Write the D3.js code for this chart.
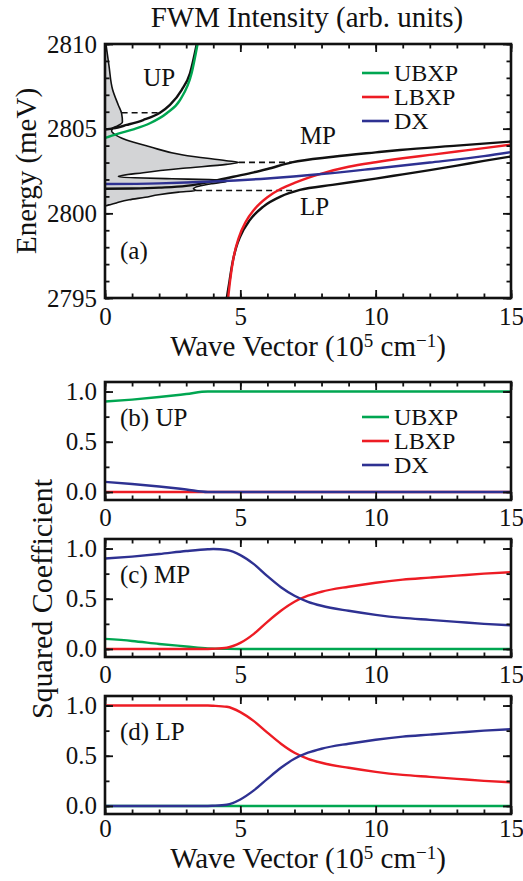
<!DOCTYPE html>
<html>
<head>
<meta charset="utf-8">
<script src="https://cdn.jsdelivr.net/npm/d3@7"></script>
<style>
  body { margin: 0; background: #fff; }
  svg { display: block; }
</style>
</head>
<body>
<script>
// ---- data ----
// panel (a): dispersion, [wave vector (1e5 cm^-1), energy (meV)]
const upBranch = [[0,2804.95],[0.31,2805.02],[0.8,2805.22],[1.41,2805.51],[2.03,2805.94],[2.4,2806.4],[2.83,2807.28],[3.14,2808.27],[3.39,2810.0]];
const mpBranch = [[0,2801.45],[1,2801.47],[2,2801.52],[3,2801.62],[3.5,2801.74],[4,2801.9],[4.74,2802.16],[5.5,2802.42],[6,2802.62],[6.9,2803.01],[8.43,2803.34],[10,2803.6],[10.9,2803.74],[13,2804.0],[15,2804.24]];
const lpBranch = [[4.5,2795],[4.6,2796],[4.7,2797],[4.85,2798],[5,2798.65],[5.35,2799.6],[5.85,2800.4],[6.5,2801.0],[7.2,2801.38],[8.4,2801.68],[10,2802.05],[11,2802.3],[12,2802.55],[13,2802.82],[14,2803.1],[15,2803.36]];
const ubxpBare = [[0,2804.45],[0.43,2804.68],[1.05,2804.96],[1.66,2805.32],[2.28,2805.91],[2.77,2806.69],[3.2,2808.27],[3.42,2810]];
const lbxpBare = [[4.55,2795],[4.62,2796],[4.74,2797.3],[4.95,2798.6],[5.2,2799.5],[5.5,2800.2],[6,2800.95],[6.5,2801.45],[7,2801.8],[7.5,2802.1],[8,2802.35],[9,2802.75],[10,2803.02],[11,2803.25],[12,2803.45],[13,2803.65],[14,2803.85],[15,2804.06]];
const dxBare = [[0,2801.73],[2,2801.77],[4,2801.88],[6,2802.06],[8,2802.32],[10,2802.65],[12,2803.0],[14,2803.38],[15,2803.62]];

// FWM spectrum, [energy (meV), intensity (peak = 1)]
const fwmSpectrum = [[2810,0.007],[2808.7,0.03],[2807.3,0.057],[2806.4,0.099],[2805.9,0.124],[2805.4,0.13],[2805.15,0.09],[2805.0,0.05],[2804.85,0.05],[2804.73,0.062],[2804.33,0.16],[2803.93,0.335],[2803.44,0.583],[2803.11,0.906],[2803.01,1.0],[2802.89,0.906],[2802.66,0.583],[2802.4,0.285],[2802.17,0.1],[2802.1,0.22],[2802.04,0.5],[2801.99,0.78],[2801.94,0.92],[2801.87,0.9],[2801.75,0.8],[2801.6,0.7],[2801.45,0.66],[2801.35,0.68],[2801.25,0.55],[2801.1,0.4],[2800.95,0.3],[2800.8,0.18],[2800.65,0.1],[2800.58,0.07],[2800.5,0.03],[2800.43,0]];
// dashed guides: energy, spectrum side (intensity), branch side (wave vector)
const peakGuides = [{e:2805.94, i:0.124, k:2.03},{e:2803.01, i:1.0, k:6.9},{e:2801.35, i:0.68, k:6.96}];
const branchLabels = [{t:'UP', k:1.41, e:2807.5},{t:'MP', k:7.2, e:2804.1},{t:'LP', k:7.2, e:2799.9}];

// panels (b)-(d): squared Hopfield coefficients
const kGrid = [0,1,2,3,3.8,4,4.5,5,5.5,6,6.5,7,7.5,8,9,10,11,12,13,14,15];
const upUBXP = [0.9,0.92,0.945,0.975,1,1,1,1,1,1,1,1,1,1,1,1,1,1,1,1,1];
const upLBXP = [0,0,0,0,0,0,0,0,0,0,0,0,0,0,0,0,0,0,0,0,0];
const upDX   = [0.1,0.08,0.055,0.025,0,0,0,0,0,0,0,0,0,0,0,0,0,0,0,0,0];
const mpUBXP = [0.1,0.08,0.05,0.025,0.005,0.003,0.001,0,0,0,0,0,0,0,0,0,0,0,0,0,0];
const mpLBXP = [0,0,0,0,0,0.002,0.012,0.06,0.15,0.27,0.38,0.47,0.53,0.57,0.62,0.66,0.69,0.71,0.73,0.75,0.765];
const mpDX   = [0.9,0.92,0.945,0.975,0.993,0.995,0.985,0.935,0.845,0.725,0.615,0.53,0.47,0.43,0.38,0.34,0.31,0.29,0.27,0.25,0.235];
const lpUBXP = [0,0,0,0,0,0,0,0,0,0,0,0,0,0,0,0,0,0,0,0,0];
const lpLBXP = [1,1,1,1,1,0.998,0.988,0.935,0.845,0.73,0.62,0.53,0.47,0.43,0.38,0.34,0.31,0.29,0.27,0.25,0.235];
const lpDX   = [0,0,0,0,0,0.002,0.012,0.065,0.155,0.27,0.38,0.47,0.53,0.57,0.62,0.66,0.69,0.71,0.73,0.75,0.765];

const seriesNames = ['UBXP','LBXP','DX'];
const kTicks = [0,5,10,15];
const eTicks = [2795,2800,2805,2810];
const cTicks = [0,0.5,1];

// ---- layout ----
let w = 523, h = 881;
let left = 105, right = 511;
let font = '"Liberation Serif","Times New Roman",serif';
let colors = {UBXP:'#00a651', LBXP:'#ed1c24', DX:'#2e3192'};

let svg = d3.select('body').append('svg').attr('width',w).attr('height',h)
  .style('font-family',font);

function drawFrame(x, y, top, bottom, xMajor, xMinor, yMajor, yMinor, yFmt, pad){
  let g = svg.append('g');
  let style = sel => {
    sel.select('.domain').remove();
    sel.selectAll('line').attr('stroke','#111').attr('stroke-width',1.8);
    sel.selectAll('text').attr('font-family',font).attr('font-size',25).attr('fill','#111');
    sel.attr('font-family',null).attr('font-size',null);
  };
  g.append('g').attr('transform',`translate(0,${bottom})`)
    .call(d3.axisBottom(x).tickValues(xMajor).tickSize(-8).tickPadding(pad).tickFormat(d3.format('d'))).call(style);
  g.append('g').attr('transform',`translate(0,${bottom})`)
    .call(d3.axisBottom(x).tickValues(xMinor).tickSize(-4.5).tickFormat('')).call(style);
  g.append('g').attr('transform',`translate(0,${top})`)
    .call(d3.axisTop(x).tickValues(xMajor).tickSize(-8).tickFormat('')).call(style);
  g.append('g').attr('transform',`translate(0,${top})`)
    .call(d3.axisTop(x).tickValues(xMinor).tickSize(-4.5).tickFormat('')).call(style);
  g.append('g').attr('transform',`translate(${left},0)`)
    .call(d3.axisLeft(y).tickValues(yMajor).tickSize(-8).tickPadding(8).tickFormat(yFmt)).call(style);
  g.append('g').attr('transform',`translate(${left},0)`)
    .call(d3.axisLeft(y).tickValues(yMinor).tickSize(-4.5).tickFormat('')).call(style);
  g.append('g').attr('transform',`translate(${right},0)`)
    .call(d3.axisRight(y).tickValues(yMajor).tickSize(-8).tickFormat('')).call(style);
  g.append('g').attr('transform',`translate(${right},0)`)
    .call(d3.axisRight(y).tickValues(yMinor).tickSize(-4.5).tickFormat('')).call(style);
  g.append('rect').attr('x',left).attr('y',top).attr('width',right-left).attr('height',bottom-top)
    .attr('fill','none').attr('stroke','#111').attr('stroke-width',2.6);
}

function legend(x0, y0, gap){
  seriesNames.forEach((n,i)=>{
    svg.append('line').attr('x1',x0).attr('x2',x0+27).attr('y1',y0+i*gap).attr('y2',y0+i*gap)
      .attr('stroke',colors[n]).attr('stroke-width',2.6);
    svg.append('text').attr('x',x0+32).attr('y',y0+i*gap).attr('dy','0.35em')
      .attr('font-size',24).attr('fill','#111').text(n);
  });
}

function waveLabel(yBase){
  let t = svg.append('text').attr('x',(left+right)/2).attr('y',yBase)
    .attr('text-anchor','middle').attr('font-size',29).attr('fill','#111');
  t.append('tspan').text('Wave Vector (10');
  t.append('tspan').attr('font-size',19).attr('dy',-9).text('5');
  t.append('tspan').attr('dy',9).text(' cm');
  t.append('tspan').attr('font-size',19).attr('dy',-9).text('\u22121');
  t.append('tspan').attr('dy',9).text(')');
}

// ---- panel (a) ----
let aTop = 44, aBottom = 298;
let xa = d3.scaleLinear().domain([0,15]).range([left,right]);
let ya = d3.scaleLinear().domain([2795,2810]).range([aBottom,aTop]);
let xi = d3.scaleLinear().domain([0,1]).range([xa(0), xa(4.95)]);

svg.append('clipPath').attr('id','clipA').append('rect')
  .attr('x',left).attr('y',aTop).attr('width',right-left).attr('height',aBottom-aTop);
let pa = svg.append('g').attr('clip-path','url(#clipA)');

pa.append('path').datum(fwmSpectrum)
  .attr('d', d3.area().curve(d3.curveMonotoneY).y(d=>ya(d[0])).x0(xa(0)).x1(d=>xi(d[1])))
  .attr('fill','#d3d4d6');
pa.append('path').datum(fwmSpectrum)
  .attr('d', d3.line().curve(d3.curveMonotoneY).y(d=>ya(d[0])).x(d=>xi(d[1])))
  .attr('fill','none').attr('stroke','#111').attr('stroke-width',1.6);

pa.selectAll('.guide').data(peakGuides).enter().append('line').attr('class','guide')
  .attr('x1',d=>xi(d.i)).attr('x2',d=>xa(d.k)).attr('y1',d=>ya(d.e)).attr('y2',d=>ya(d.e))
  .attr('stroke','#111').attr('stroke-width',1.6).attr('stroke-dasharray','6,4');

let lineA = d3.line().curve(d3.curveMonotoneX).x(d=>xa(d[0])).y(d=>ya(d[1]));
[[upBranch,'#111'],[mpBranch,'#111'],[lpBranch,'#111'],
 [ubxpBare,colors.UBXP],[lbxpBare,colors.LBXP],[dxBare,colors.DX]].forEach(([d,c])=>{
  pa.append('path').datum(d).attr('d',lineA).attr('fill','none')
    .attr('stroke',c).attr('stroke-width',2.4);
});

drawFrame(xa, ya, aTop, aBottom, kTicks, d3.range(0,16), eTicks, d3.range(2795,2811), d3.format('d'), 9);

svg.selectAll('.blabel').data(branchLabels).enter().append('text')
  .attr('x',d=>xa(d.k)).attr('y',d=>ya(d.e)).attr('font-size',25).attr('fill','#111').text(d=>d.t);
svg.append('text').attr('x',120).attr('y',259).attr('font-size',25).attr('fill','#111').text('(a)');
legend(362, 73, 24);

svg.append('text').attr('x',307).attr('y',27).attr('text-anchor','middle')
  .attr('font-size',29).attr('fill','#111').text('FWM Intensity (arb. units)');
svg.append('text').attr('transform',`translate(36,${(aTop+aBottom)/2}) rotate(-90)`)
  .attr('text-anchor','middle').attr('font-size',29).attr('fill','#111').text('Energy (meV)');
waveLabel(356);

// ---- panels (b)-(d) ----
let panels = [
  {top:382, tag:'(b) UP', vals:[upUBXP,upLBXP,upDX], leg:true},
  {top:539, tag:'(c) MP', vals:[mpUBXP,mpLBXP,mpDX], leg:false},
  {top:696, tag:'(d) LP', vals:[lpUBXP,lpLBXP,lpDX], leg:false}
];
let ph = 118;
let xc = d3.scaleLinear().domain([0,15]).range([left,right]);

panels.forEach((p,j)=>{
  let bottom = p.top + ph;
  let yc = d3.scaleLinear().domain([-0.08,1.095]).range([bottom,p.top]);
  let ln = d3.line().curve(d3.curveMonotoneX).x((d,i)=>xc(kGrid[i])).y(d=>yc(d));
  p.vals.forEach((v,i)=>{
    svg.append('path').datum(v).attr('d',ln).attr('fill','none')
      .attr('stroke',colors[seriesNames[i]]).attr('stroke-width',2.4);
  });
  drawFrame(xc, yc, p.top, bottom, kTicks, d3.range(0,16), cTicks, [0,0.25,0.5,0.75,1], d3.format('.1f'), j===2 ? 5 : 8);
  svg.append('text').attr('x',120).attr('y',p.top+44).attr('font-size',25).attr('fill','#111').text(p.tag);
  if(p.leg) legend(362, p.top+35, 24);
});

svg.append('text').attr('transform',`translate(52,599) rotate(-90)`)
  .attr('text-anchor','middle').attr('font-size',30).attr('fill','#111').text('Squared Coefficient');
waveLabel(868);
</script>
</body>
</html>
